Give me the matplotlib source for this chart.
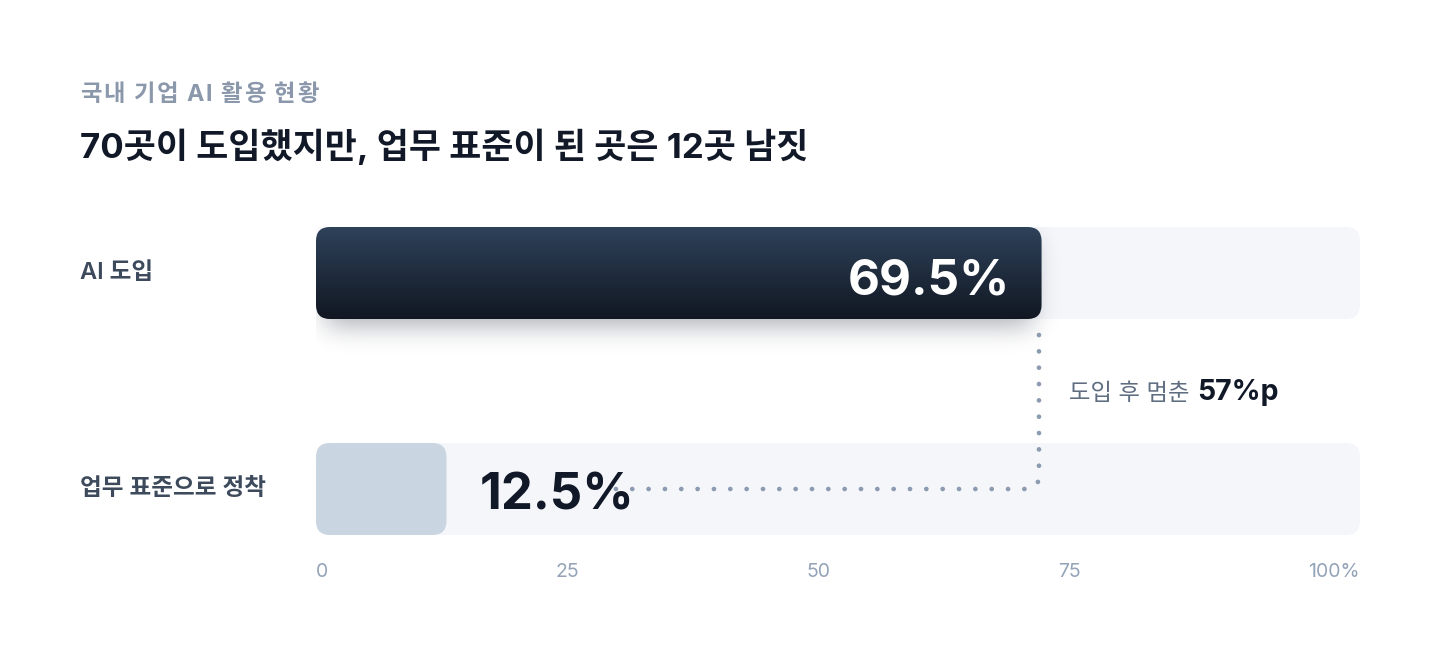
import matplotlib
matplotlib.use("Agg")
import matplotlib.pyplot as plt
import matplotlib.transforms as mtransforms
from matplotlib.patches import FancyBboxPatch
import numpy as np

plt.rcParams['font.family'] = ['Inter', 'Noto Sans CJK KR', 'DejaVu Sans']

subtitle = "국내 기업 AI 활용 현황"
title = "70곳이 도입했지만, 업무 표준이 된 곳은 12곳 남짓"
categories = ["AI 도입", "업무 표준으로 정착"]
values = [69.5, 12.5]
value_labels = ["69.5%", "12.5%"]
tick_values = [0, 25, 50, 75, 100]
tick_labels = ["0", "25", "50", "75", "100%"]
gap_text = "도입 후 멈춘"
gap_value = "57%p"

W, H = 1440, 660
fig = plt.figure(figsize=(W / 100, H / 100), dpi=100)
fig.patch.set_facecolor("white")
renderer = fig.canvas.get_renderer()

# plot area in pixels: x 316..1360, y 227..535
left, right, top, bottom = 316, 1360, 227, 535
ax = fig.add_axes([left / W, 1 - bottom / H, (right - left) / W, (bottom - top) / H])
ax.set_xlim(0, 100)
row_px = 216.0
bar_px = 92.0
half = bar_px / 2 / row_px
ax.set_ylim(1 + half, -half)
ax.axis("off")

px_x = (right - left) / 100.0  # pixels per x unit
aspect = px_x / row_px
rad = 14 / px_x


def rbox(x0, y0, w, h, **kw):
    return FancyBboxPatch((x0, y0), w, h,
                          boxstyle="round,pad=0,rounding_size=%f" % rad,
                          mutation_aspect=aspect, **kw)


def blur1d(a, sigma, axis):
    k = np.arange(-3 * sigma, 3 * sigma + 1)
    g = np.exp(-0.5 * (k / sigma) ** 2)
    g /= g.sum()
    return np.apply_along_axis(lambda v: np.convolve(v, g, mode="same"), axis, a)


# tracks
for i in range(len(categories)):
    ax.add_patch(rbox(0, i - half, 100, 2 * half, fc="#f4f6fa", ec="none", zorder=1))

# soft shadow under the dark bar (pixel grid around the bar)
bar_w_px = values[0] * px_x
m = 50
sh = np.zeros((int(bar_px) + 2 * m, int(bar_w_px) + 2 * m))
sh[m + 12:m + 12 + int(bar_px) - 6, m + 10:m + int(bar_w_px) - 10] = 1.0
sh = blur1d(blur1d(sh, 13, 0), 13, 1)
rgba = np.zeros(sh.shape + (4,))
rgba[..., :3] = np.array([15, 23, 42]) / 255
rgba[..., 3] = sh * 0.36
ax.imshow(rgba, extent=[-m / px_x, values[0] + m / px_x,
                        half + m / row_px, -half - m / row_px],
          aspect="auto", zorder=2, interpolation="bilinear")

# dark bar with vertical gradient
bar1 = rbox(0, -half, values[0], 2 * half, fc="none", ec="none", zorder=3)
ax.add_patch(bar1)
c_top = np.array([0x2e, 0x42, 0x5a]) / 255
c_bot = np.array([0x11, 0x17, 0x22]) / 255
t = np.linspace(0, 1, 200)[:, None]
grad = (c_top[None, :] * (1 - t) + c_bot[None, :] * t)[:, None, :]
im = ax.imshow(grad, extent=[0, values[0], half, -half], aspect="auto",
               zorder=3, interpolation="bilinear")
im.set_clip_path(bar1)
ax.set_xlim(0, 100)
ax.set_ylim(1 + half, -half)

# light bar
ax.add_patch(rbox(0, 1 - half, values[1], 2 * half, fc="#cad5e2", ec="none", zorder=3))

# value labels
ax.annotate(value_labels[0], xy=(values[0], 0), xytext=(-22.5, -15.5),
            textcoords="offset points", ha="right", va="baseline",
            fontsize=35.5, fontweight="bold", color="white", zorder=5)
ax.annotate(value_labels[1], xy=(values[1], 1), xytext=(24, -14.5),
            textcoords="offset points", ha="left", va="baseline",
            fontsize=36.5, fontweight="bold", color="#111827", zorder=5)

# dotted connector
xc = values[0] - 0.25
r = 12
y_start = half + 16 / row_px
y_turn = 1 - r / row_px
ang = np.linspace(0, np.pi / 2, 12)
arc_x = xc - (r - r * np.cos(ang)) / px_x
arc_y = y_turn + (r * np.sin(ang)) / row_px
x_end = 27.7
cx = np.concatenate([[xc], arc_x, [x_end]])
cy = np.concatenate([[y_start], arc_y, [1]])
ax.plot(cx, cy, color="#8d9bb0", lw=3.4, linestyle=(0, (0.01, 3.45)),
        dash_capstyle="round", solid_capstyle="round", zorder=4, clip_on=False)

# gap annotation
gy = (400 - 273) / row_px
t1 = ax.annotate(gap_text, xy=(values[0], gy), xytext=(19.5, 0),
                 textcoords="offset points", ha="left", va="baseline",
                 fontsize=16.8, color="#5f6d80", zorder=5)
w1 = t1.get_window_extent(renderer).width * 72 / 100
ax.annotate(gap_value, xy=(values[0], gy), xytext=(19.5 + w1 + 5.5, 0),
            textcoords="offset points", ha="left", va="baseline",
            fontsize=20.5, fontweight="bold", color="#111827", zorder=5)

# row labels
trans = mtransforms.blended_transform_factory(fig.transFigure, ax.transData)
for i, c in enumerate(categories):
    ax.text(80 / W, i, c, transform=trans, ha="left", va="center",
            fontsize=17, fontweight="semibold", color="#3d4a5c")


# subtitle with letter spacing
def spaced(x_px, y_px, s, sp, **kw):
    for i, ch in enumerate(s):
        if ch == " ":
            continue
        probe_a = fig.text(0, 0, s[:i + 1], **kw)
        probe_b = fig.text(0, 0, ch, **kw)
        wa = probe_a.get_window_extent(renderer).width
        wb = probe_b.get_window_extent(renderer).width
        probe_a.remove()
        probe_b.remove()
        fig.text((x_px + wa - wb + i * sp) / W, 1 - y_px / H, ch,
                 ha="left", va="center", **kw)


spaced(80, 95, subtitle, 1.6, fontsize=16.8, fontweight="bold", color="#8b98ac")
fig.text(80 / W, 1 - 147 / H, title, ha="left", va="center",
         fontsize=25.1, fontweight="bold", color="#111827")

# tick labels spaced like justify-between
tick_y = 1 + half + 37 / row_px
tks = [ax.text(0, tick_y, s, ha="left", va="center", fontsize=14,
               color="#94a3b8", clip_on=False) for s in tick_labels]
widths = [tk.get_window_extent(renderer).width for tk in tks]
gap = ((right - left) - sum(widths)) / (len(tks) - 1)
pos = 0.0
for tk, w in zip(tks, widths):
    tk.set_x(pos / px_x)
    pos += w + gap

fig.savefig("out.png", dpi=100, facecolor="white")
